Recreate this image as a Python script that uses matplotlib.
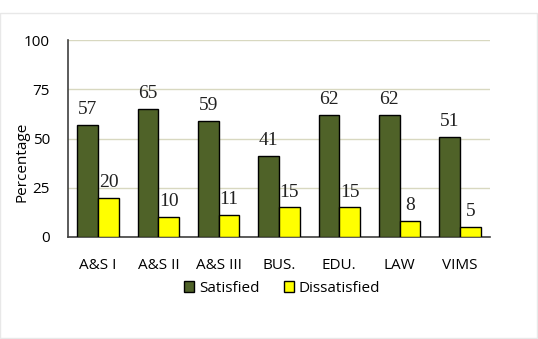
import matplotlib
matplotlib.use("Agg")
import matplotlib.pyplot as plt
import numpy as np
from matplotlib.patches import Rectangle

categories = ["A&S I", "A&S II", "A&S III", "BUS.", "EDU.", "LAW", "VIMS"]
satisfied = [57, 65, 59, 41, 62, 62, 51]
dissatisfied = [20, 10, 11, 15, 15, 8, 5]
yticks = [0, 25, 50, 75, 100]

sans = ["Open Sans", "DejaVu Sans"]
serif = ["Liberation Serif", "DejaVu Serif"]

fig = plt.figure(figsize=(5.38, 3.39), dpi=100)
fig.patches.append(Rectangle((0.0, 0.003), 0.999, 0.958, transform=fig.transFigure,
                             fill=False, edgecolor="#e8e8e8", linewidth=1))
ax = fig.add_axes([68/538, 1-237/339, (490-68)/538, (237-40)/339])

x = np.arange(len(categories))
w = 0.343
b1 = ax.bar(x - w/2, satisfied, w, color="#4f6228", edgecolor="black", linewidth=1, label="Satisfied", zorder=3)
b2 = ax.bar(x + w/2, dissatisfied, w, color="#ffff00", edgecolor="black", linewidth=1, label="Dissatisfied", zorder=3)

for bars, vals in ((b1, satisfied), (b2, dissatisfied)):
    for r, v in zip(bars, vals):
        ax.annotate(str(v), (r.get_x() + r.get_width()/2, v), xytext=(0, 5),
                    textcoords="offset points", ha="center", va="bottom",
                    fontsize=14, family=serif, color="#222222")

ax.set_xlim(-0.5, len(categories) - 0.5)
ax.set_ylim(0, 100)
ax.set_yticks(yticks)
ax.set_xticks(x)
ax.set_xticklabels(categories, family=sans, fontsize=11)
for t in ax.get_yticklabels():
    t.set_family(sans)
    t.set_fontsize(11)
ax.tick_params(axis="x", length=0, pad=15)
ax.tick_params(axis="y", length=0, pad=13)
ax.grid(axis="y", color="#d8d8c0", linewidth=1, zorder=0)
for s in ("top", "right"):
    ax.spines[s].set_visible(False)
for s in ("left", "bottom"):
    ax.spines[s].set_color("#404040")
    ax.spines[s].set_linewidth(1.2)
ax.set_ylabel("Percentage", family=sans, fontsize=11)
ax.yaxis.set_label_coords(-39/422, (237-162)/197)

leg = fig.legend(handles=[b1, b2], labels=["Satisfied", "Dissatisfied"], loc="center",
                 bbox_to_anchor=(282/538, 1-288/339), ncol=2, frameon=False,
                 prop={"family": sans, "size": 11}, handlelength=0.7, handleheight=0.7,
                 handletextpad=0.3, columnspacing=1.6)

fig.savefig("out.png", dpi=100)
